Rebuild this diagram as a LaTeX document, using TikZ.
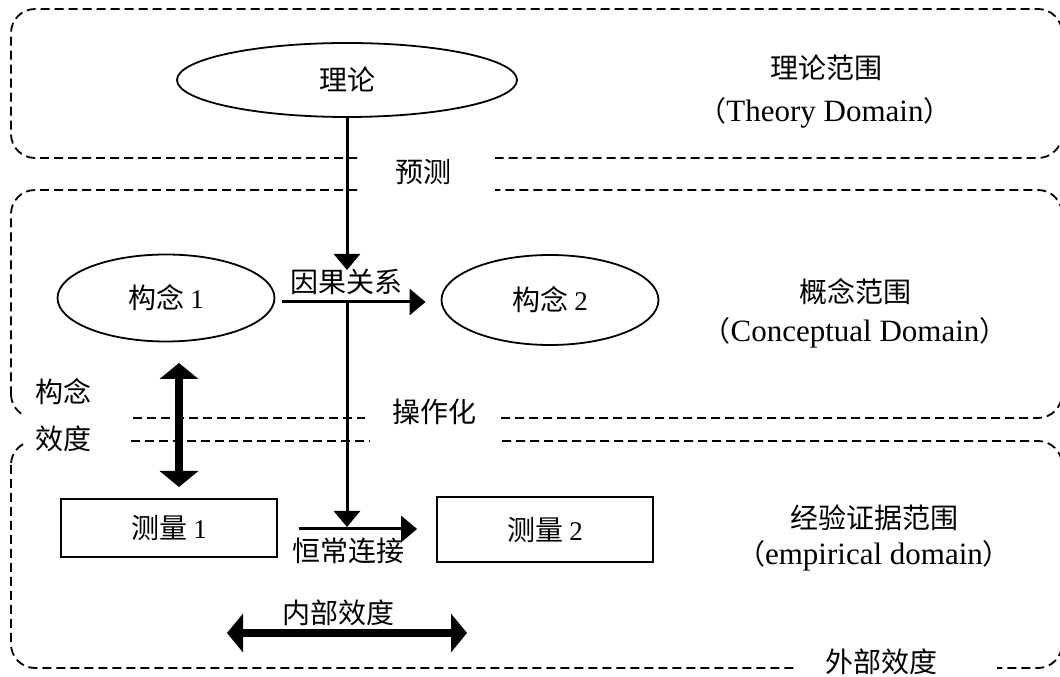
\documentclass[tikz,border=0pt]{standalone}
\usepackage{fontspec}
\setmainfont{Liberation Serif}
\newfontfamily\cjk{Noto Sans CJK SC}
\newfontfamily\latin{Liberation Serif}
\usetikzlibrary{arrows.meta,shapes.geometric}

% digits and full-width brackets set inside mixed text
\newcommand\lnum[1]{{\latin\fontsize{27}{30}\selectfont #1}}
\newcommand\zhp[1]{{\cjk\fontsize{28}{34}\selectfont #1}}

\begin{document}
\begin{tikzpicture}[x=1pt,y=1pt,
  dashframe/.style={dash pattern=on 9pt off 5pt, line width=1.8pt, rounded corners=24pt},
  dasharc/.style={dash pattern=on 9pt off 5pt, line width=1.8pt},
  ovalnode/.style={ellipse, draw, line width=1.8pt, inner sep=0pt},
  rectnode/.style={rectangle, draw, line width=1.8pt, inner sep=0pt},
  zh/.style={font=\cjk\fontsize{28}{34}\selectfont, inner sep=0pt},
  en/.style={font=\latin\fontsize{31}{36}\selectfont, inner sep=0pt, anchor=base},
  linkarrow/.style={line width=3pt, -{Triangle[length=16pt,width=26pt]}},
  dblarrow/.style={line width=8pt, {Triangle[length=16pt,width=38pt]}-{Triangle[length=16pt,width=38pt]}},
]
\clip (0,0) rectangle (1060,677);

% ---- domain frames (dashed, open where labels sit) ----
% theory domain
\draw[dashframe] (357,519) -- (11,519) -- (11,668) -- (1062,668) -- (1062,519) -- (495,519);
% conceptual domain
\draw[dashframe] (357,487) -- (11,487) -- (11,283);
\draw[dasharc] (11,283) arc[start angle=180, end angle=240, radius=24];
\draw[dashframe] (133,259) -- (365,259);
\draw[dashframe] (501,259) -- (1062,259) -- (1062,487) -- (495,487);
% empirical domain
\draw[dasharc] (23,232.8) arc[start angle=120, end angle=180, radius=24];
\draw[dashframe] (11,212) -- (11,9) -- (798,9);
\draw[dashframe] (131,236) -- (370,236);
\draw[dashframe] (502,236) -- (1062,236) -- (1062,9) -- (997,9);

% ---- main nodes ----
\node[ovalnode, minimum width=340pt, minimum height=74pt, zh] (theory) at (347,597) {理论};
\node[ovalnode, minimum width=217pt, minimum height=87pt, zh] (c1) at (166,379) {构念 \lnum{1}};
\node[ovalnode, minimum width=217pt, minimum height=90pt, zh] (c2) at (550,377) {构念 \lnum{2}};
\node[rectnode, minimum width=216pt, minimum height=58pt, zh] (m1) at (169,149) {测量 \lnum{1}};
\node[rectnode, minimum width=216pt, minimum height=65pt, zh] (m2) at (545,147.5) {测量 \lnum{2}};

% ---- labels ----
\node[zh] (pred) at (423,505) {预测};
\node[zh] (oper) at (434,265) {操作化};
\node[zh, font=\cjk\fontsize{28}{47}\selectfont, align=center] (cv) at (63,261.5) {构念\\效度};
\node[zh] (ext) at (881,15) {外部效度};
\node[zh] (intl) at (338,64) {内部效度};
\node[zh] (causal) at (346,395) {因果关系};
\node[zh] (conj) at (348,126) {恒常连接};

\node[zh] (thd) at (826,609) {理论范围};
\node[en] (thdE) at (825,555) {\zhp{（}Theory Domain\zhp{）}};
\node[zh] (cod) at (855,385) {概念范围};
\node[en] (codE) at (855,335) {\zhp{（}Conceptual Domain\zhp{）}};
\node[zh] (emd) at (874,159) {经验证据范围};
\node[en] (emdE) at (874,112) {\zhp{（}empirical domain\zhp{）}};

% ---- connector end points ----
\coordinate (predtip) at (347,407);
\coordinate (split) at (347,375);
\coordinate (meet) at (347,150);
\coordinate (conjrow) at (0,148);
\coordinate (cvA) at (179,314);
\coordinate (cvB) at (179,190);
\coordinate (ivA) at (227,44);
\coordinate (ivB) at (467,44);

% ---- connectors ----
\draw[linkarrow] (theory.south) -- (predtip);
\draw[linkarrow] ([xshift=7pt]c1.east |- split) -- ([xshift=-15pt]c2.west |- split);
\draw[linkarrow] (split) -- (meet);
\draw[linkarrow] ([xshift=21pt]m1.east |- conjrow) -- ([xshift=-19pt]m2.west |- conjrow);
\draw[dblarrow] (cvA) -- (cvB);
\draw[dblarrow] (ivA) -- (ivB);
\end{tikzpicture}
\end{document}
